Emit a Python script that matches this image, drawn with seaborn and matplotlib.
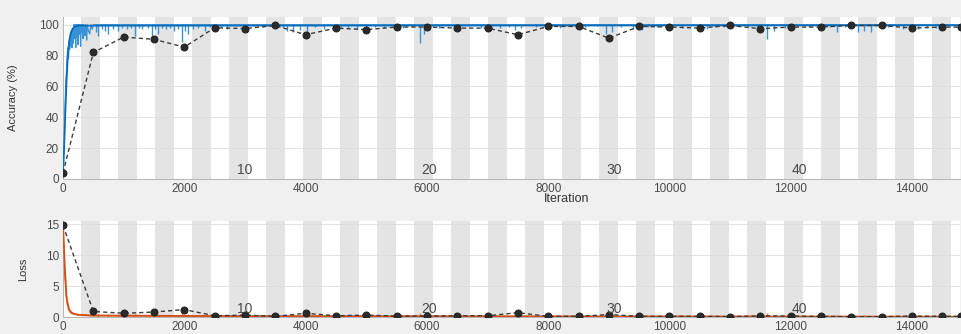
import matplotlib
matplotlib.use("Agg")
import matplotlib.pyplot as plt
import seaborn as sns

# training progress
iters_per_epoch = 305
n_epochs = 48
x_max = 14790
epoch_labels = [10, 20, 30, 40]
x_ticks = [0, 2000, 4000, 6000, 8000, 10000, 12000, 14000]
acc_ticks = [0, 20, 40, 60, 80, 100]
loss_ticks = [0, 5, 10, 15]

# raw mini-batch accuracy: dense ramp at the start, then flat at 100
train_iter = [0, 10, 20, 30, 40, 50, 60, 70, 80, 90, 100, 110, 120, 130, 140, 150,
              160, 170, 180, 190, 200, 210, 220, 230, 240, 250, 260, 270, 280, 290,
              300, 310, 320, 330, 340, 350, 360, 370, 380, 390, 400, 420, 440, 460,
              480, 500, 14790]
train_acc = [4, 12, 25, 40, 55, 65, 72, 80, 85, 78, 88, 84, 92, 86, 95, 85,
             97, 88, 100, 91, 100, 85, 100, 92, 100, 87, 100, 94, 100, 86,
             100, 95, 100, 91, 100, 97, 93, 100, 98, 90, 100, 96, 94, 100,
             97, 100, 100]
# downward spikes of the raw accuracy after the ramp
dip_iter = [540, 580, 650, 700, 740, 820, 900, 980, 1050, 1120, 1190, 1250, 1300,
            1400, 1470, 1520, 1570, 1640, 1700, 1760, 1830, 1900, 1960, 2010, 2060,
            2150, 2220, 2340, 2420, 2500, 2600, 2700, 2850, 3000, 3150, 3300, 3500,
            3620, 3700, 3800, 3900, 4020, 4150, 4300, 4450, 4580, 4700, 4850, 5000,
            5150, 5300, 5450, 5600, 5750, 5890, 5950, 6050, 6200, 6350, 6500, 6700,
            6900, 7050, 7200, 7350, 7450, 7550, 7800, 8000, 8200, 8400, 8600, 8800,
            8950, 9050, 9200, 9400, 9550, 9650, 9800, 10000, 10200, 10350, 10480,
            10620, 10750, 10900, 11100, 11300, 11450, 11600, 11720, 11900, 12100,
            12300, 12500, 12650, 12770, 12900, 13100, 13200, 13320, 13450, 13600,
            13750, 13850, 14000, 14100, 14250, 14400, 14600]
dip_acc = [95, 93, 97, 96, 94, 97.5, 96, 98, 97, 98, 93, 98, 97,
           98, 90, 97, 94, 98, 97, 98, 96, 97.5, 89, 96, 94,
           97, 98, 96, 98.5, 98, 98.5, 97.5, 99, 98, 99, 98.5, 99,
           98.5, 96, 95, 96.5, 95, 98.5, 97, 96.5, 98.5, 98, 97, 96.5,
           98.5, 98, 99, 98, 98.5, 88, 94, 98.5, 98, 99, 97.5, 99,
           98, 97, 98, 98.5, 96.5, 98, 98.5, 99, 98, 99, 98.5, 99,
           94, 95.5, 98.5, 97, 96.5, 98.5, 98.5, 99, 98, 99, 96.5,
           97, 98.5, 98.5, 99, 98.5, 99, 91, 96, 98, 99,
           98.5, 99, 98.5, 95, 98.5, 95.5, 96, 95, 98.5, 98.5,
           99, 97.5, 97, 97.5, 98.5, 98, 98.5]
smooth_iter = [0, 20, 40, 60, 80, 100, 130, 160, 200, 260, 14790]
smooth_acc = [4, 22, 45, 65, 80, 89, 95, 97.5, 98.8, 99.4, 99.6]

val_iter = [0, 500, 1000, 1500, 2000, 2500, 3000, 3500, 4000, 4500, 5000, 5500,
            6000, 6500, 7000, 7500, 8000, 8500, 9000, 9500, 10000, 10500, 11000,
            11500, 12000, 12500, 13000, 13500, 14000, 14500, 14800]
val_acc = [4, 82, 92, 90.5, 85.5, 98, 97.5, 99.5, 93.5, 97.8, 96.8, 98.5,
           98.5, 97.8, 97.8, 93.5, 98.9, 98.9, 91.3, 98.9, 98.5, 97.8, 99.5,
           97.4, 98.5, 98.5, 99.5, 99.5, 97.8, 98.5, 98.4]
val_loss = [14.8, 0.9, 0.6, 0.8, 1.2, 0.2, 0.3, 0.1, 0.6, 0.2, 0.3, 0.15,
            0.15, 0.2, 0.2, 0.7, 0.1, 0.1, 0.4, 0.1, 0.1, 0.1, 0.05,
            0.2, 0.15, 0.1, 0.05, 0.05, 0.15, 0.1, 0.1]

loss_iter = [0, 10, 20, 30, 40, 50, 60, 70, 80, 90, 100, 110, 120, 140, 160, 180,
             200, 250, 300, 400, 500, 2500, 14790]
loss_val = [15, 12, 9.5, 6.5, 5.5, 3.5, 3.2, 2.0, 1.9, 1.2, 1.3, 0.8, 0.9, 0.55,
            0.7, 0.4, 0.5, 0.3, 0.4, 0.25, 0.2, 0.1, 0.05]
loss_spike_iter = [580, 740, 900, 1190, 1470, 1570, 1700, 1960, 2060, 2150, 2340,
                   3800, 4020, 4450, 5000, 5890, 5950, 7050, 7450, 8950, 9550,
                   10480, 11600, 12770, 13200, 14000]
loss_spike_val = [0.5, 0.4, 0.3, 0.5, 0.6, 0.4, 0.3, 0.7, 0.5, 0.4, 0.3,
                  0.4, 0.5, 0.3, 0.3, 0.7, 0.4, 0.3, 0.3, 0.5, 0.3,
                  0.3, 0.6, 0.4, 0.3, 0.3]
smooth_loss_iter = [0, 30, 60, 100, 150, 250, 500, 2500, 14790]
smooth_loss = [15, 8, 3, 1.2, 0.6, 0.35, 0.25, 0.15, 0.05]

RAW_BLUE = "#3892d8"
DARK_BLUE = "#0a6cb8"
RAW_ORANGE = "#ef7a3c"
DARK_ORANGE = "#d4501a"
VAL_COLOR = "#3a3a3a"
BAND = "#e4e4e4"
TXT = "#4a4a4a"

sns.set_theme(style="white")
plt.rcParams["font.family"] = ["Liberation Sans", "DejaVu Sans"]

fig = plt.figure(figsize=(9.61, 3.34), dpi=100, facecolor="#f0f0f0")
ax_acc = fig.add_axes([63 / 961, 1 - 179 / 334, 897 / 961, 162 / 334])
ax_loss = fig.add_axes([63 / 961, 1 - 317 / 334, 897 / 961, 96 / 334])


def style_axes(ax, ymax, yticks, label_y):
    ax.set_facecolor("white")
    for k in range(2, n_epochs + 2, 2):
        ax.axvspan((k - 1) * iters_per_epoch, k * iters_per_epoch,
                   color=BAND, lw=0, zorder=0)
    ax.set_xlim(0, x_max)
    ax.set_ylim(0, ymax)
    ax.set_xticks(x_ticks)
    ax.set_yticks(yticks)
    ax.yaxis.grid(True, color="#dedede", lw=0.6)
    ax.tick_params(direction="in", length=3, width=0.6, labelsize=8.5,
                   colors=TXT, pad=3)
    sns.despine(ax=ax, top=True, right=True)
    for side in ("left", "bottom"):
        ax.spines[side].set_color("#b5b5b5")
        ax.spines[side].set_linewidth(0.7)
    for e in epoch_labels:
        ax.text(e * iters_per_epoch - 60, label_y, str(e), ha="center", va="bottom",
                fontsize=10, color=TXT, zorder=6)


style_axes(ax_acc, 105, acc_ticks, 1.5)
style_axes(ax_loss, 15.5, loss_ticks, 0.15)

val_style = dict(color=VAL_COLOR, lw=1.0, dashes=(3, 2.2), marker="o",
                 markersize=5, markeredgecolor="#222222",
                 markerfacecolor="#2a2a2a", estimator=None, sort=False, zorder=4)

# accuracy panel
sns.lineplot(x=train_iter, y=train_acc, ax=ax_acc, color=RAW_BLUE, lw=0.9,
             estimator=None, sort=False, zorder=2)
ax_acc.vlines(dip_iter, dip_acc, 100, color=RAW_BLUE, lw=1.0, zorder=2)
sns.lineplot(x=smooth_iter, y=smooth_acc, ax=ax_acc, color=DARK_BLUE, lw=1.3,
             estimator=None, sort=False, zorder=3)
sns.lineplot(x=val_iter, y=val_acc, ax=ax_acc, **val_style)
ax_acc.set_ylabel("Accuracy (%)", fontsize=8, color="#333333")
ax_acc.yaxis.set_label_coords(-0.050, 0.5)
ax_acc.set_xlabel("Iteration", fontsize=9, color="#333333")
ax_acc.xaxis.set_label_coords(0.561, -0.088)

# loss panel
sns.lineplot(x=loss_iter, y=loss_val, ax=ax_loss, color=RAW_ORANGE, lw=1.0,
             estimator=None, sort=False, zorder=2)
ax_loss.vlines(loss_spike_iter, 0, loss_spike_val, color=RAW_ORANGE, lw=1.0, zorder=2)
sns.lineplot(x=smooth_loss_iter, y=smooth_loss, ax=ax_loss, color=DARK_ORANGE,
             lw=1.3, estimator=None, sort=False, zorder=3)
sns.lineplot(x=val_iter, y=val_loss, ax=ax_loss, **val_style)
ax_loss.set_ylabel("Loss", fontsize=8, color="#333333")
ax_loss.yaxis.set_label_coords(-0.039, 0.5)
ax_loss.set_xlabel("")

fig.savefig("out.png", dpi=100, facecolor=fig.get_facecolor())
